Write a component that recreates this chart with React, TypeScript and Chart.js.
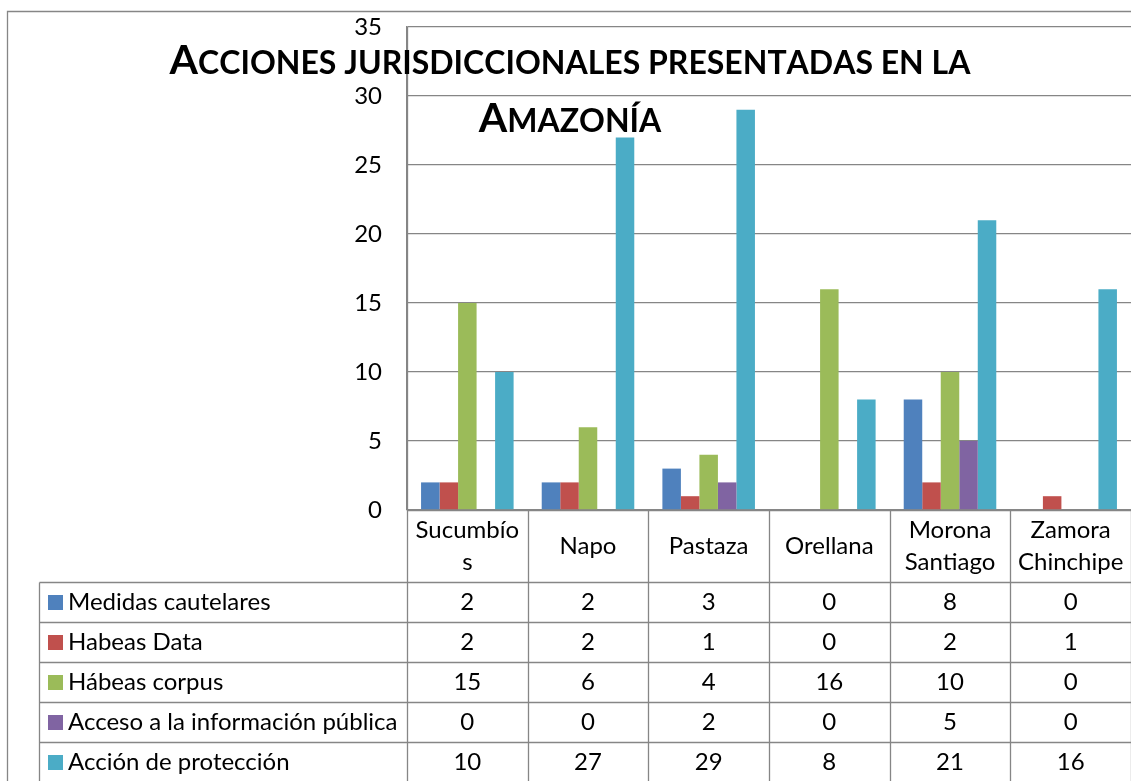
import React, { useEffect, useRef } from "react";
import { Chart, registerables } from "chart.js";

Chart.register(...registerables);

const categories = ["Sucumbíos", "Napo", "Pastaza", "Orellana", "Morona Santiago", "Zamora Chinchipe"];
const categoryLines = [["Sucumbío", "s"], ["Napo"], ["Pastaza"], ["Orellana"], ["Morona", "Santiago"], ["Zamora", "Chinchipe"]];
const seriesNames = ["Medidas cautelares", "Habeas Data", "Hábeas corpus", "Acceso a la información pública", "Acción de protección"];
const medidasCautelares = [2, 2, 3, 0, 8, 0];
const habeasData = [2, 2, 1, 0, 2, 1];
const habeasCorpus = [15, 6, 4, 16, 10, 0];
const accesoInformacion = [0, 0, 2, 0, 5, 0];
const accionProteccion = [10, 27, 29, 8, 21, 16];
const seriesColors = ["#4F81BD", "#C0504D", "#9BBB59", "#8064A2", "#4BACC6"];
const titleLines = ["Acciones jurisdiccionales presentadas en la", "Amazonía"];

const FONT = "Lato, 'Open Sans', sans-serif";
const LINE = "#868686";

function drawSmallCaps(ctx: CanvasRenderingContext2D, text: string, cx: number, baseline: number, big: number, small: number) {
  const parts = Array.from(text).map((ch) => {
    const isUpper = ch !== ch.toLowerCase();
    return { ch: ch.toUpperCase(), size: isUpper ? big : small };
  });
  let total = 0;
  for (const p of parts) {
    ctx.font = `bold ${p.size}px ${FONT}`;
    total += ctx.measureText(p.ch).width;
  }
  let x = cx - total / 2;
  ctx.textAlign = "left";
  ctx.textBaseline = "alphabetic";
  for (const p of parts) {
    ctx.font = `bold ${p.size}px ${FONT}`;
    ctx.fillText(p.ch, x, baseline);
    x += ctx.measureText(p.ch).width;
  }
}

const tablePlugin = {
  id: "dataTable",
  afterDraw(chart: any) {
    const ctx: CanvasRenderingContext2D = chart.ctx;
    const { left, right, top, bottom } = chart.chartArea;
    const n = categories.length;
    const colW = (right - left) / n;
    const headerH = 72;
    const rowH = 40;
    const legendLeft = 39.5;
    const H = chart.height;
    const data = chart.data.datasets.map((d: any) => d.data);
    ctx.save();
    ctx.strokeStyle = LINE;
    ctx.lineWidth = 1.3;
    ctx.beginPath();
    ctx.moveTo(7.5, H);
    ctx.lineTo(7.5, 11.5);
    ctx.lineTo(chart.width, 11.5);
    const ax = Math.round(left) + 0.5;
    ctx.moveTo(ax, top);
    ctx.lineTo(ax, H);
    const y0 = Math.round(bottom) + 0.5;
    ctx.moveTo(ax, y0);
    ctx.lineTo(right, y0);
    for (let i = 1; i <= n; i++) {
      const x = Math.round(left + i * colW) + 0.5;
      ctx.moveTo(x, y0);
      ctx.lineTo(x, H);
    }
    for (let r = 0; r <= seriesNames.length; r++) {
      const y = Math.round(bottom + headerH + r * rowH) + 0.5;
      ctx.moveTo(legendLeft, y);
      ctx.lineTo(right, y);
    }
    ctx.moveTo(legendLeft, Math.round(bottom + headerH) + 0.5);
    ctx.lineTo(legendLeft, H);
    ctx.stroke();

    ctx.fillStyle = "#000";
    ctx.font = `24px ${FONT}`;
    ctx.textAlign = "center";
    ctx.textBaseline = "middle";
    categoryLines.forEach((lines, i) => {
      const cx = left + (i + 0.5) * colW;
      const cy = bottom + headerH / 2;
      const lh = 32;
      lines.forEach((ln, k) => {
        ctx.fillText(ln, cx, cy + (k - (lines.length - 1) / 2) * lh);
      });
    });

    seriesNames.forEach((name, r) => {
      const cy = bottom + headerH + (r + 0.5) * rowH;
      ctx.fillStyle = seriesColors[r];
      ctx.fillRect(48, Math.round(cy - 7), 15, 15);
      ctx.fillStyle = "#000";
      ctx.textAlign = "left";
      ctx.fillText(name, 68, cy);
      ctx.textAlign = "center";
      data[r].forEach((v: number, i: number) => {
        ctx.fillText(String(v), left + (i + 0.5) * colW, cy);
      });
    });

    ctx.fillStyle = "#000";
    drawSmallCaps(ctx, titleLines[0], 570, 74, 41, 32);
    drawSmallCaps(ctx, titleLines[1], 570, 132, 41, 32);
    ctx.restore();
  },
};

export default function App() {
  const ref = useRef<HTMLCanvasElement | null>(null);
  useEffect(() => {
    if (!ref.current) return;
    const seriesData = [medidasCautelares, habeasData, habeasCorpus, accesoInformacion, accionProteccion];
    const chart = new Chart(ref.current, {
      type: "bar",
      data: {
        labels: categories,
        datasets: seriesNames.map((name, i) => ({
          label: name,
          data: seriesData[i],
          backgroundColor: seriesColors[i],
          borderWidth: 0,
          categoryPercentage: 0.767,
          barPercentage: 1,
        })),
      },
      options: {
        responsive: false,
        animation: false,
        layout: { padding: { top: 27, left: 0, right: 0, bottom: 0 } },
        plugins: { legend: { display: false }, title: { display: false }, tooltip: { enabled: false } },
        scales: {
          x: {
            ticks: { display: false },
            grid: { display: false },
            border: { display: false },
            afterFit: (scale: any) => {
              scale.height = 271;
              scale.paddingLeft = 0;
              scale.paddingRight = 0;
            },
          },
          y: {
            min: 0,
            max: 35,
            ticks: { stepSize: 5, padding: 25, color: "#000", font: { family: FONT, size: 24 } },
            grid: { color: LINE, lineWidth: 1.3, drawTicks: false },
            border: { display: true, color: LINE, width: 1.3 },
            afterFit: (scale: any) => {
              scale.width = 407;
              scale.paddingTop = 0;
              scale.paddingBottom = 0;
            },
          },
        },
      },
      plugins: [tablePlugin],
    });
    return () => chart.destroy();
  }, []);
  return (
    <div style={{ position: "absolute", left: 0, top: 0, width: 1131, height: 781, background: "#fff" }}>
      <canvas ref={ref} width={1131} height={781} style={{ display: "block" }} />
    </div>
  );
}
